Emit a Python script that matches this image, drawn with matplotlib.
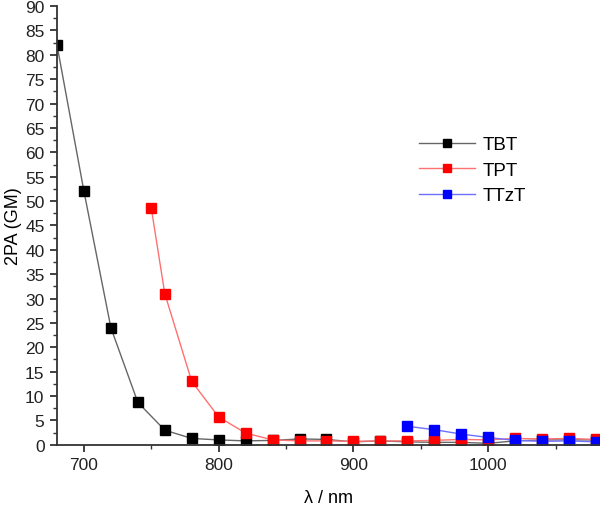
import matplotlib
matplotlib.use("Agg")
import matplotlib.pyplot as plt
from matplotlib.ticker import MultipleLocator

plt.rcParams['font.family'] = ['Liberation Sans', 'DejaVu Sans']

# TBT
tbt_x = [680, 700, 720, 740, 760, 780, 800, 820, 840, 860, 880, 900, 920, 940, 960, 980, 1000, 1020, 1040, 1060, 1080]
tbt_y = [82, 52, 24, 8.7, 3.0, 1.3, 1.0, 0.8, 0.9, 1.2, 1.1, 0.6, 0.8, 0.6, 0.5, 0.5, 0.3, 0.8, 1.0, 1.0, 1.0]
# TPT
tpt_x = [750, 760, 780, 800, 820, 840, 860, 880, 900, 920, 940, 960, 980, 1000, 1020, 1040, 1060, 1080]
tpt_y = [48.5, 31, 13, 5.7, 2.4, 1.0, 0.8, 0.8, 0.7, 0.8, 0.8, 0.9, 1.1, 1.0, 1.3, 1.2, 1.3, 1.1]
# TTzT
ttzt_x = [940, 960, 980, 1000, 1020, 1040, 1060, 1080]
ttzt_y = [3.8, 3.1, 2.2, 1.5, 0.9, 0.7, 0.8, 0.6]

fig = plt.figure(figsize=(6, 5.06), dpi=100)
ax = fig.add_axes([0.095, 0.119, 0.905, 0.867])

series = [
    (tbt_x, tbt_y, "TBT", "#666666", "black"),
    (tpt_x, tpt_y, "TPT", "#ff7070", "red"),
    (ttzt_x, ttzt_y, "TTzT", "#7070ff", "blue"),
]
for x, y, name, lc, mc in series:
    ax.plot(x, y, "-", color=lc, lw=1, marker="s", ms=7.5,
            mfc=mc, mec=mc, label=name)

ax.set_xlim(680, 1083)
ax.set_ylim(0, 90)
ax.xaxis.set_major_locator(MultipleLocator(100))
ax.xaxis.set_minor_locator(MultipleLocator(50))
ax.yaxis.set_major_locator(MultipleLocator(5))
ax.yaxis.set_minor_locator(MultipleLocator(2.5))

ax.spines["top"].set_visible(False)
ax.spines["right"].set_visible(False)
for s in ("left", "bottom"):
    ax.spines[s].set_linewidth(1.3)
    ax.spines[s].set_color("#333333")

ax.tick_params(which="major", direction="out", length=5, width=1.3, labelsize=12.5,
               colors="#333333", pad=4)
ax.tick_params(which="minor", direction="out", length=3, width=1, colors="#333333")
ax.tick_params(labelcolor="#222222")

ax.set_xlabel("λ / nm", fontsize=13, labelpad=12)
ax.set_ylabel("2PA (GM)", fontsize=13, labelpad=2)

ax.legend(loc="upper left", bbox_to_anchor=(0.635, 0.742), frameon=False,
          fontsize=13.5, handlelength=3.0, handletextpad=0.4,
          labelspacing=0.45, markerscale=0.75)

fig.savefig("out.png", dpi=100)
